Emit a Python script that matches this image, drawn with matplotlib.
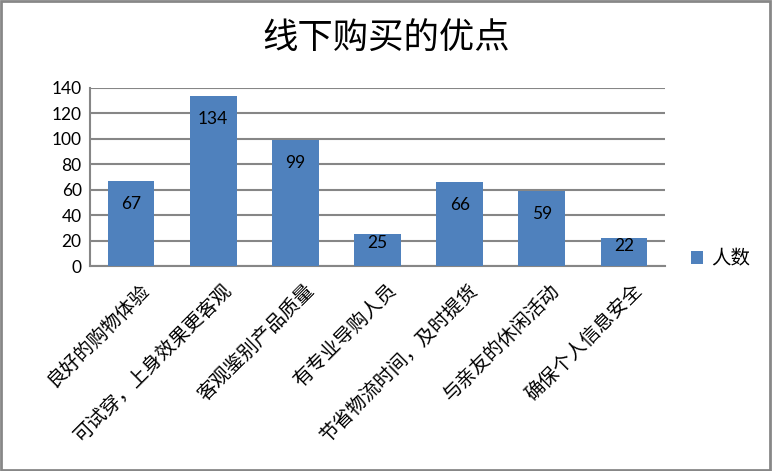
import matplotlib.pyplot as plt
import matplotlib.transforms as mtransforms
from matplotlib.patches import Rectangle

plt.rcParams['font.family'] = ['Noto Sans CJK SC', 'DejaVu Sans']

categories = ['良好的购物体验', '可试穿，上身效果更客观', '客观鉴别产品质量', '有专业导购人员',
              '节省物流时间，及时提货', '与亲友的休闲活动', '确保个人信息安全']
counts = [67, 134, 99, 25, 66, 59, 22]
series_name = '人数'
yticks = [0, 20, 40, 60, 80, 100, 120, 140]

bar_color = '#4F81BD'
grid_color = '#868686'

fig = plt.figure(figsize=(7.72, 4.71), dpi=100)
ax = fig.add_axes([0.1166, 0.4352, 0.7448, 0.378])

x = range(len(categories))
bars = ax.bar(x, counts, width=0.57, color=bar_color, zorder=3, label=series_name)

# labels sit inside the bar top; short bars get them pushed up to stay inside
for xi, v in zip(x, counts):
    off = -16.5 if v > 40 else -6
    ax.annotate(str(v), (xi, v), xytext=(0, off), textcoords='offset points',
                ha='center', va='center', fontsize=12.5, family='Lato', color='black',
                zorder=4)

ax.set_xlim(-0.5, len(categories) - 0.5)
ax.set_ylim(0, 140)
ax.set_yticks(yticks)
ax.set_yticklabels([str(t) for t in yticks], family='Lato', fontsize=12.5)
ax.yaxis.grid(True, color=grid_color, linewidth=1.5, zorder=0)
ax.tick_params(axis='y', length=0, pad=6)
ax.tick_params(axis='x', length=0, pad=10)

ax.set_xticks(list(x))
ax.set_xticklabels(categories, rotation=45, ha='right', va='top', fontsize=14)
offset = mtransforms.ScaledTranslation(23 / 100, 0, fig.dpi_scale_trans)
for lab in ax.get_xticklabels():
    lab.set_transform(lab.get_transform() + offset)

for side in ['top', 'right']:
    ax.spines[side].set_visible(False)
for side in ['left', 'bottom']:
    ax.spines[side].set_color(grid_color)
    ax.spines[side].set_linewidth(1.5)

fig.text(0.5, 0.919, '线下购买的优点', ha='center', va='center', fontsize=25.5)

leg = fig.legend(handles=[bars], labels=[series_name], loc='center left',
                 bbox_to_anchor=(0.872, 0.45), frameon=False, fontsize=14,
                 handlelength=0.62, handleheight=0.62, handletextpad=0.45)

fig.patches.append(Rectangle((0.001, 0.002), 0.997, 0.996, transform=fig.transFigure,
                             fill=False, edgecolor='#878787', linewidth=2))

fig.savefig('out.png', dpi=100)
